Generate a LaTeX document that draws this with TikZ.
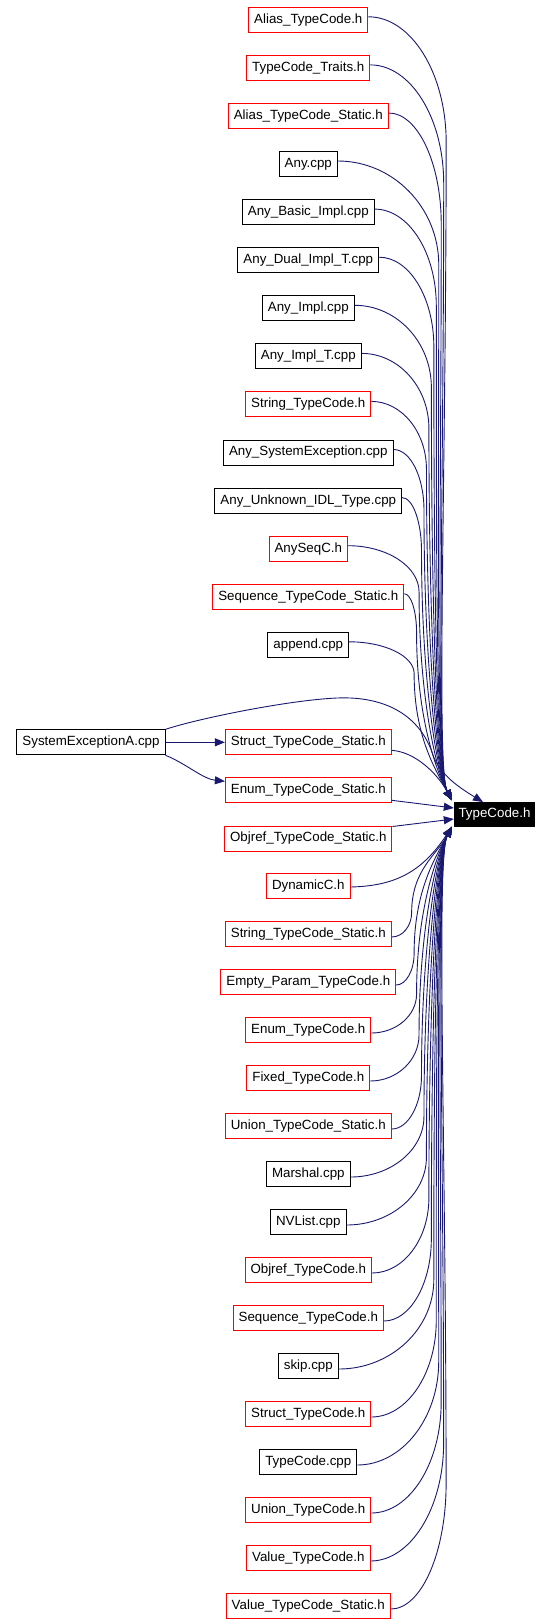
\documentclass[tikz,border=0pt]{standalone}
\usepackage{fontspec}
\setmainfont{Liberation Sans}
\usetikzlibrary{arrows.meta,calc}
\definecolor{navy}{RGB}{25,25,112}
\tikzset{
  box/.style={draw, line width=1pt, minimum height=25pt, inner xsep=5.5pt, inner ysep=0pt,
    font=\fontsize{13.33}{16}\selectfont, fill=white},
  hbox/.style={box, draw=red},
  cbox/.style={box, draw=black},
  dep/.style={draw=navy, line width=0.9pt, -{Triangle[length=10pt,width=8pt]}},
}
\newcommand\upedge[1]{%
  \draw[dep] let \p1=([yshift=3pt]#1.east), \p2=(tu),
    \n1={\y1-(\y2)}, \n2={406pt+\n1/19.5}, \n3={0.15*\n1+8pt}, \n4={min(1pt,\n1/120)} in
    (\p1) .. controls ({\x1+0.55*(\n2-\x1)},\y1) and (\n2,{\y1-0.45*\n3}) .. (\n2,{\y1-\n3})
    .. controls (\n2,{\y1-\n3-0.5*(\n1-\n3)}) and ({\x2-16*\n4},{\y2+30*\n4}) .. (\p2);}
\newcommand\downedge[1]{%
  \draw[dep] let \p1=([yshift=-3pt]#1.east), \p2=(tl),
    \n1={\y2-(\y1)}, \n2={406pt+\n1/19.5}, \n3={0.15*\n1+8pt}, \n4={min(1pt,\n1/120)} in
    (\p1) .. controls ({\x1+0.55*(\n2-\x1)},\y1) and (\n2,{\y1+0.45*\n3}) .. (\n2,{\y1+\n3})
    .. controls (\n2,{\y1+\n3+0.5*(\n1-\n3)}) and ({\x2-16*\n4},{\y2-30*\n4}) .. (\p2);}
\begin{document}
\begin{tikzpicture}[x=1pt,y=-1pt]
\useasboundingbox (0,0) rectangle (552,1624);
% target
\node[fill=black, text=white, minimum width=81pt, minimum height=24.4pt, inner sep=0pt,
  font=\fontsize{13.33}{16}\selectfont] (tc) at (494.5,814.5) {TypeCode.h};
\coordinate (tu) at ([xshift=-2pt,yshift=2pt]tc.north west);
\coordinate (tl) at ([xshift=-2pt]tc.south west);
% upper column
\node[hbox] (n0) at (308.3,19.8) {Alias\_TypeCode.h};
\node[hbox] (n1) at (308.3,67.9) {TypeCode\_Traits.h};
\node[hbox] (n2) at (308.3,116.0) {Alias\_TypeCode\_Static.h};
\node[cbox] (n3) at (308.3,164.0) {Any.cpp};
\node[cbox] (n4) at (308.3,212.1) {Any\_Basic\_Impl.cpp};
\node[cbox] (n5) at (308.3,260.2) {Any\_Dual\_Impl\_T.cpp};
\node[cbox] (n6) at (308.3,308.3) {Any\_Impl.cpp};
\node[cbox] (n7) at (308.3,356.4) {Any\_Impl\_T.cpp};
\node[hbox] (n8) at (308.3,404.4) {String\_TypeCode.h};
\node[cbox] (n9) at (308.3,452.5) {Any\_SystemException.cpp};
\node[cbox] (n10) at (308.3,500.6) {Any\_Unknown\_IDL\_Type.cpp};
\node[hbox] (n11) at (308.3,548.7) {AnySeqC.h};
\node[hbox] (n12) at (308.3,596.8) {Sequence\_TypeCode\_Static.h};
\node[cbox] (n13) at (308.3,644.8) {append.cpp};
% middle
\node[cbox] (sx) at (91,742.3) {SystemExceptionA.cpp};
\node[hbox] (ss) at (308.3,742.3) {Struct\_TypeCode\_Static.h};
\node[hbox] (es) at (308.3,790.3) {Enum\_TypeCode\_Static.h};
\node[hbox] (os) at (308.3,838.5) {Objref\_TypeCode\_Static.h};
% lower column
\node[hbox] (m18) at (308.3,886) {DynamicC.h};
\node[hbox] (m19) at (308.3,934) {String\_TypeCode\_Static.h};
\node[hbox] (m20) at (308.3,982) {Empty\_Param\_TypeCode.h};
\node[hbox] (m21) at (308.3,1030) {Enum\_TypeCode.h};
\node[hbox] (m22) at (308.3,1078) {Fixed\_TypeCode.h};
\node[hbox] (m23) at (308.3,1126) {Union\_TypeCode\_Static.h};
\node[cbox] (m24) at (308.3,1174) {Marshal.cpp};
\node[cbox] (m25) at (308.3,1222) {NVList.cpp};
\node[hbox] (m26) at (308.3,1270) {Objref\_TypeCode.h};
\node[hbox] (m27) at (308.3,1318) {Sequence\_TypeCode.h};
\node[cbox] (m28) at (308.3,1366) {skip.cpp};
\node[hbox] (m29) at (308.3,1414) {Struct\_TypeCode.h};
\node[cbox] (m30) at (308.3,1462) {TypeCode.cpp};
\node[hbox] (m31) at (308.3,1510) {Union\_TypeCode.h};
\node[hbox] (m32) at (308.3,1558) {Value\_TypeCode.h};
\node[hbox] (m33) at (308.3,1606) {Value\_TypeCode\_Static.h};
% edges from upper column
\foreach \k in {0,...,13} {\upedge{n\k}}
% edges from lower column
\foreach \k in {19,...,33} {\downedge{m\k}}
\draw[dep] ([yshift=-1pt]m18.east) .. controls (395,886) and (422,872) .. (tl);
% special edges
\draw[dep] ([yshift=-8pt]ss.east) .. controls (415,752) and (437,773) .. (tu);
\draw[dep] ([yshift=-10pt]es.east) -- ([yshift=6.5pt]tc.west);
\draw[dep] ([yshift=12pt]os.east) -- ([yshift=-4.5pt]tc.west);
\draw[dep] (sx.east) -- (ss.west);
\draw[dep] (sx.south east) .. controls (185,763) and (203,779) .. ([yshift=-4pt]es.north west);
\draw[dep] (sx.north east) .. controls (200,718) and (290,700) .. (337,698)
  .. controls (385,696) and (420,715) .. (433,755)
  .. controls (440,775) and (460,788) .. ([xshift=-11.5pt]tc.north);
\end{tikzpicture}
\end{document}
